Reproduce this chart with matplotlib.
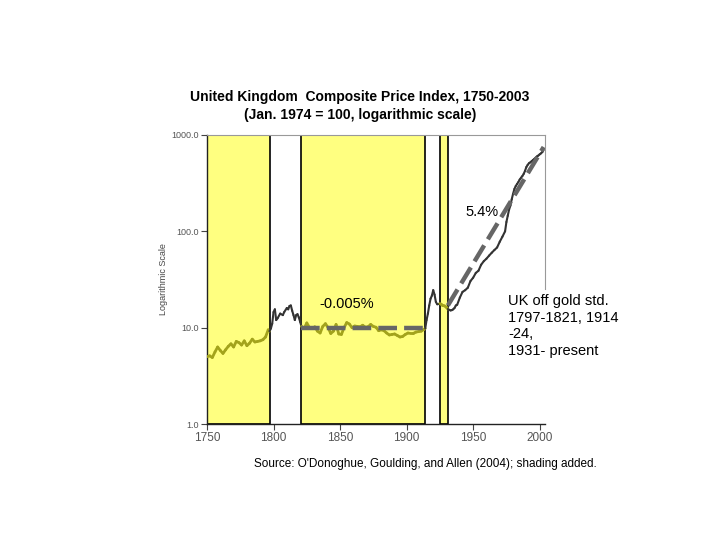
import matplotlib
matplotlib.use("Agg")
import matplotlib.pyplot as plt
import numpy as np

plt.rcParams['font.family'] = ['Liberation Sans', 'DejaVu Sans']

years = [1750, 1752, 1754, 1756, 1758, 1760, 1762, 1764, 1766, 1768, 1770, 1772, 1774, 1776,
         1778, 1780, 1782, 1784, 1786, 1788, 1790, 1792, 1794, 1796, 1797, 1798, 1799, 1800,
         1801, 1802, 1803, 1805, 1807, 1808, 1810, 1811, 1812, 1813, 1814, 1815, 1816, 1817,
         1818, 1819, 1820, 1821, 1823, 1825, 1827, 1829, 1831, 1833, 1835, 1837, 1839, 1841,
         1843, 1845, 1847, 1849, 1851, 1853, 1855, 1857, 1859, 1861, 1863, 1865, 1867, 1869,
         1871, 1873, 1875, 1877, 1879, 1881, 1883, 1885, 1887, 1889, 1891, 1893, 1895, 1897,
         1899, 1901, 1903, 1905, 1907, 1909, 1911, 1913, 1914, 1915, 1916, 1917, 1918, 1919,
         1920, 1921, 1922, 1923, 1924, 1925, 1926, 1927, 1928, 1929, 1930, 1931, 1932, 1933,
         1934, 1935, 1936, 1937, 1938, 1940, 1942, 1944, 1946, 1948, 1950, 1952, 1954, 1956,
         1958, 1960, 1962, 1964, 1966, 1968, 1970, 1972, 1974, 1975, 1976, 1977, 1978, 1979,
         1980, 1981, 1982, 1983, 1984, 1985, 1986, 1987, 1988, 1989, 1990, 1991, 1992, 1993,
         1994, 1995, 1996, 1997, 1998, 1999, 2000, 2001, 2002, 2003]
prices = [5.0, 5.1, 4.9, 5.6, 6.3, 5.8, 5.4, 5.9, 6.4, 6.8, 6.3, 7.2, 7.0, 6.6,
          7.3, 6.5, 6.9, 7.6, 7.1, 7.2, 7.3, 7.5, 8.0, 9.5, 9.2, 9.8, 11.0, 14.5,
          15.5, 12.0, 12.5, 14.0, 13.5, 14.5, 16.0, 15.5, 16.8, 17.0, 15.0, 13.5, 12.0, 13.5,
          13.8, 12.8, 11.5, 10.3, 9.8, 11.2, 10.0, 9.8, 10.2, 9.2, 8.8, 10.3, 11.0, 10.0,
          8.7, 9.2, 10.8, 8.6, 8.5, 10.0, 11.3, 10.9, 10.0, 10.4, 10.3, 10.2, 10.6, 10.1,
          10.2, 10.8, 10.3, 10.1, 9.3, 9.5, 9.3, 8.8, 8.4, 8.5, 8.6, 8.3, 8.0, 8.1,
          8.5, 8.8, 8.7, 8.7, 9.0, 9.1, 9.2, 9.6, 9.8, 12.0, 14.0, 17.0, 20.0, 21.5,
          24.5, 22.0, 18.5, 17.5, 17.6, 17.8, 17.5, 17.0, 16.9, 16.7, 16.2, 15.6, 15.3, 15.1,
          15.2, 15.5, 16.0, 17.0, 17.3, 20.5, 23.5, 24.5, 26.0, 30.5, 33.0, 37.0, 39.0, 45.0,
          49.0, 52.0, 56.0, 60.0, 64.0, 68.0, 78.0, 88.0, 100.0, 125, 145, 168, 185, 215,
          245, 275, 295, 310, 325, 345, 360, 375, 395, 425, 465, 490, 510, 520,
          535, 550, 565, 582, 600, 612, 630, 645, 665, 700]

shade_periods = [(1750, 1797), (1821, 1914), (1925, 1931)]
trend_up_years = [1931, 2003]
trend_up_vals = [17, 750]
trend_flat_years = [1821, 1914]
trend_flat_vals = [10, 10]

x_ticks = [1750, 1800, 1850, 1900, 1950, 2000]
y_ticks = [1, 10, 100, 1000]
y_tick_labels = ["1.0", "10.0", "100.0", "1000.0"]

OLIVE = '#a3a31c'
DARK = '#333333'
SHADE = '#ffff80'

fig = plt.figure(figsize=(7.2, 5.4), dpi=100)
ax = fig.add_axes([207/720, 1 - 424/540, (545-207)/720, (424-135)/540])
ax.set_yscale('log')
ax.set_xlim(1750, 2004)
ax.set_ylim(1, 1000)

for a, b in shade_periods:
    ax.axvspan(a, b, facecolor=SHADE, edgecolor='black', lw=1.2, zorder=1)

def in_shade(y):
    return any(a <= y <= b for a, b in shade_periods)

yrs = np.array(years)
vals = np.array(prices, dtype=float)
for i in range(len(yrs) - 1):
    c = OLIVE if (in_shade(yrs[i]) and in_shade(yrs[i+1])) else DARK
    lw = 2.0 if c == OLIVE else 1.5
    ax.plot(yrs[i:i+2], vals[i:i+2], color=c, lw=lw, zorder=3, solid_capstyle='round')

ax.plot(trend_up_years, trend_up_vals, color='#666666', lw=3.2, dashes=(4.2, 1.6), zorder=4)
ax.plot(trend_flat_years, trend_flat_vals, color='#666666', lw=3.2, dashes=(4.2, 1.6), zorder=4)

ax.set_xticks(x_ticks)
ax.set_xticklabels([str(t) for t in x_ticks], fontsize=8.5, color='#555555')
ax.set_yticks(y_ticks)
ax.set_yticklabels(y_tick_labels, fontsize=6.5, color='#555555')
ax.yaxis.set_minor_locator(matplotlib.ticker.NullLocator())
ax.tick_params(axis='both', direction='out', length=4, width=0.8, color='#444444', pad=2)
ax.set_ylabel('Logarithmic Scale', fontsize=6.5, color='#444444', labelpad=2)

for s in ['left', 'bottom']:
    ax.spines[s].set_color('#222222')
    ax.spines[s].set_linewidth(1.0)
for s in ['top', 'right']:
    ax.spines[s].set_color('#999999')
    ax.spines[s].set_linewidth(0.8)
ax.spines['right'].set_bounds(25, 1000)

fig.text(360/720, 1 - 97/540, 'United Kingdom  Composite Price Index, 1750-2003',
         ha='center', va='center', fontsize=10, fontweight='bold')
fig.text(360/720, 1 - 115/540, '(Jan. 1974 = 100, logarithmic scale)',
         ha='center', va='center', fontsize=10, fontweight='bold')

fig.text(482/720, 1 - 212/540, '5.4%', ha='center', va='center', fontsize=10.5)
fig.text(347/720, 1 - 304/540, '-0.005%', ha='center', va='center', fontsize=10.5)
fig.text(508/720, 1 - 294/540, 'UK off gold std.\n1797-1821, 1914\n-24,\n1931- present',
         ha='left', va='top', fontsize=10.5, linespacing=1.25)

fig.text(425/720, 1 - 464/540, "Source: O'Donoghue, Goulding, and Allen (2004); shading added.",
         ha='center', va='center', fontsize=8.5)

fig.savefig('out.png', dpi=100)
